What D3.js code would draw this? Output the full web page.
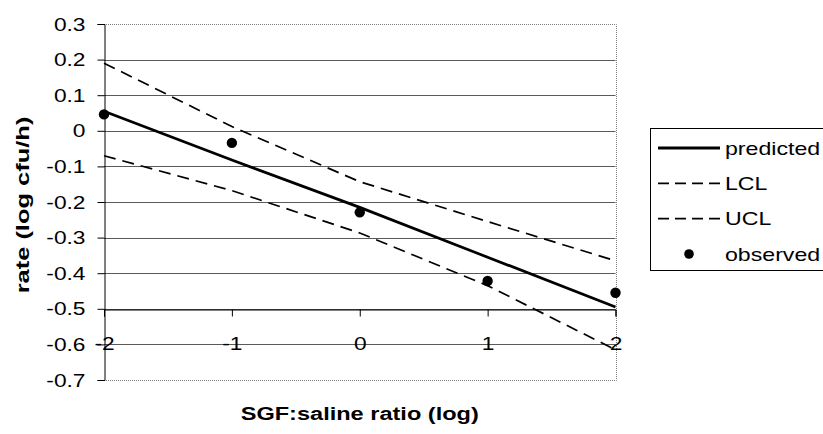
<!DOCTYPE html>
<html>
<head>
<meta charset="utf-8">
<script src="https://cdn.jsdelivr.net/npm/d3@7"></script>
<style>
  html,body{margin:0;padding:0;background:#fff}
  svg{display:block}
  text{font-family:"Liberation Sans",Arial,sans-serif;fill:#000}
</style>
</head>
<body>
<div id="chart"></div>
<script>
// SGF:saline ratio vs rate — predicted line, confidence limits, observed points

const xVals=[-2,-1,0,1,2];
const predicted=[0.055,-0.082,-0.215,-0.355,-0.495];
const ucl=[0.19,0.012,-0.143,-0.255,-0.365];
const lcl=[-0.07,-0.168,-0.287,-0.435,-0.615];
const observed=[0.046,-0.034,-0.229,-0.422,-0.455];
const yTicks=[0.3,0.2,0.1,0,-0.1,-0.2,-0.3,-0.4,-0.5,-0.6,-0.7];
const xTicks=[-2,-1,0,1,2];
const legendItems=["predicted","LCL","UCL","observed"];

const W=823,H=434;
const SX=1.3; // the original text is drawn wide

const svg=d3.select("#chart").append("svg").attr("width",W).attr("height",H);

const x=d3.scaleLinear().domain([-2,2]).range([104,615.5]);
const y=d3.scaleLinear().domain([-0.7,0.3]).range([380,24]);

// Gridlines
const grid=svg.append("g");
grid.selectAll("line").data(yTicks.filter(v=>v<0.25&&v>-0.65)).enter().append("line")
  .attr("x1",x(-2)).attr("x2",x(2))
  .attr("y1",d=>Math.round(y(d))+0.5).attr("y2",d=>Math.round(y(d))+0.5)
  .attr("stroke","#5a5a5a").attr("stroke-width",1);

// Plot frame (top, right, bottom dotted)
const fr=svg.append("g").attr("fill","none").attr("stroke","#7a7a7a").attr("stroke-dasharray","1,1");
fr.append("path").attr("d",`M${x(-2)},${Math.round(y(0.3))+0.5}H${Math.round(x(2))+0.5}V${Math.round(y(-0.7))+0.5}H${x(-2)}`);

// Y axis
const yAxis=d3.axisLeft(y).tickValues(yTicks).tickSize(7)
  .tickFormat(d=>d3.format(".1f")(d).replace("−","-").replace(/^-?0\.0$/,"0"));
const gy=svg.append("g").attr("transform",`translate(${Math.round(x(-2))+0.5},0)`).call(yAxis);
gy.select(".domain").attr("stroke","#000");
gy.selectAll(".tick line").attr("stroke","#000");
gy.selectAll(".tick text").attr("font-size",17.5).attr("x",null).attr("dy",null)
  .attr("text-anchor","end").attr("dominant-baseline","central")
  .attr("transform",`translate(-19,0) scale(${SX},1)`);

// X axis (drawn along the -0.5 gridline, labels below)
const xAxis=d3.axisBottom(x).tickValues(xTicks).tickSize(7).tickFormat(d3.format("d"));
const gx=svg.append("g").attr("transform",`translate(0,${Math.round(y(-0.5))+0.5})`).call(xAxis);
gx.select(".domain").attr("stroke","#000");
gx.selectAll(".tick line").attr("stroke","#000");
gx.selectAll(".tick text").attr("font-size",17.5).attr("y",null).attr("dy",null)
  .attr("dominant-baseline","central").attr("text-anchor","middle")
  .attr("transform",`translate(0,${y(-0.6)-y(-0.5)-1}) scale(${SX},1)`)
  .text(d=>d3.format("d")(d).replace("−","-"));

// Lines
const line=d3.line().x((d,i)=>x(xVals[i])).y(d=>y(d));
svg.append("path").datum(ucl).attr("d",line).attr("fill","none")
  .attr("stroke","#000").attr("stroke-width",1.7).attr("stroke-dasharray","12,7");
svg.append("path").datum(lcl).attr("d",line).attr("fill","none")
  .attr("stroke","#000").attr("stroke-width",1.7).attr("stroke-dasharray","12,7");
svg.append("path").datum(predicted).attr("d",line).attr("fill","none")
  .attr("stroke","#000").attr("stroke-width",2.8);

// Observed points
svg.append("g").selectAll("circle").data(observed).enter().append("circle")
  .attr("cx",(d,i)=>x(xVals[i])).attr("cy",d=>y(d)).attr("r",5.2).attr("fill","#000");

// Axis titles
svg.append("text").attr("font-size",19).attr("font-weight","bold").attr("text-anchor","middle")
  .attr("transform",`translate(${(x(-2)+x(2))/2},420) scale(1.24,1)`)
  .text("SGF:saline ratio (log)");
svg.append("text").attr("font-size",19).attr("font-weight","bold").attr("text-anchor","middle")
  .attr("transform",`translate(29,${(y(0.3)+y(-0.7))/2+3}) rotate(-90) scale(1.34,1)`)
  .text("rate (log cfu/h)");

// Legend
const lg=svg.append("g").attr("transform","translate(650,128)");
lg.append("rect").attr("x",0.5).attr("y",0.5).attr("width",190).attr("height",142)
  .attr("fill","#fff").attr("stroke","#000").attr("stroke-width",1);
const ly=d3.scalePoint().domain(legendItems).range([20,126]);
const item=lg.selectAll("g.item").data(legendItems).enter().append("g").attr("class","item")
  .attr("transform",d=>`translate(0,${ly(d)})`);
item.filter(d=>d!=="observed").append("line")
  .attr("x1",8).attr("x2",70).attr("y1",0).attr("y2",0).attr("stroke","#000")
  .attr("stroke-width",d=>d==="predicted"?2.8:1.7)
  .attr("stroke-dasharray",d=>d==="predicted"?null:"11,6");
item.filter(d=>d==="observed").append("circle").attr("cx",39).attr("cy",0).attr("r",4.8).attr("fill","#000");
item.append("text").attr("font-size",18.5).attr("dominant-baseline","central")
  .attr("transform",`translate(75,0) scale(1.25,1)`).text(d=>d);
</script>
</body>
</html>
